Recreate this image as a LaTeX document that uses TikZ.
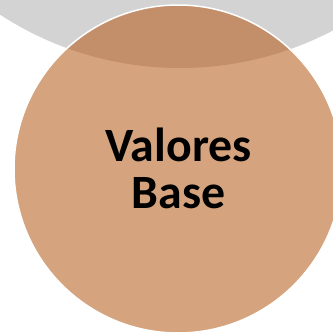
\documentclass[tikz,border=0pt]{standalone}
\usepackage{fontspec}
\setmainfont{Carlito}
\definecolor{gris}{RGB}{211,211,211}
\definecolor{arena}{RGB}{213,164,126}
\definecolor{arenaosc}{RGB}{195,143,106}

\begin{document}
\begin{tikzpicture}[x=1bp,y=1bp]
	%%%%% START %%%%%
	
	\useasboundingbox (0,0) rectangle (333,335);
	\clip (0,0) rectangle (333,335);
	
	\fill[gris] (180,597) circle (330);
	\fill[arena] (178,166) circle (164);
	
	\begin{scope}
		\clip (178,166) circle (164);
		\fill[arenaosc] (180,597) circle (330);
	\end{scope}
	\draw[white, line width=1.5bp] (178,166) circle (164);
	
	\node[font=\bfseries\fontsize{48}{47}\selectfont, align=center, inner sep=0pt] (valores) at (178.5,167) {Valores\\Base};
	
	%%%%% END %%%%%
\end{tikzpicture}
\end{document}
